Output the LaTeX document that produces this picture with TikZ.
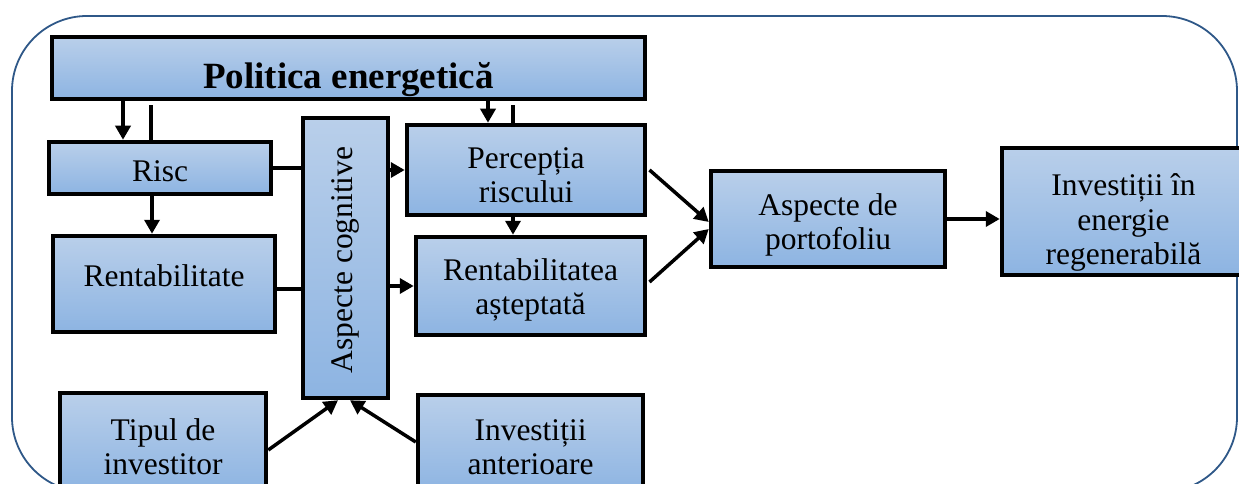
\documentclass[tikz,border=0pt]{standalone}
\usepackage{fontspec}
\setmainfont{Liberation Serif}
\usetikzlibrary{arrows.meta}
\definecolor{boxtop}{RGB}{185,207,234}
\definecolor{boxbot}{RGB}{141,180,226}
\definecolor{frameblue}{RGB}{47,88,136}
\tikzset{
    box/.style={draw=black, line width=4.5pt, top color=boxtop, bottom color=boxbot, inner sep=0pt},
    lbl/.style={align=center, font=\fontsize{31.5}{34.5}\selectfont},
    link/.style={line width=3.5pt},
    arr/.style={line width=3.5pt, -{Triangle[length=14pt, width=15pt]}}
}

\begin{document}
\begin{tikzpicture}[x=1pt, y=-1pt]
    \clip (0,0) rectangle (1239,484);
    \fill [white] (0,0) rectangle (1239,484);
    \draw [frameblue, line width=1.8pt, rounded corners=75pt] (12,16) rectangle (1237,492);
    \node [box, minimum width=593pt, minimum height=62pt, label={[lbl, font=\bfseries\fontsize{37}{40}\selectfont, yshift=-12pt]center:Politica energetică}] (title) at (348.5,68) {};
    \node [box, minimum width=222pt, minimum height=52pt, label={[lbl, yshift=-3pt]center:Risc}] (risc) at (160,168) {};
    \node [box, minimum width=222pt, minimum height=96pt, label={[lbl, yshift=8pt]center:Rentabilitate}] (rent) at (164,284) {};
    \node [box, minimum width=85pt, minimum height=280pt, label={[lbl, rotate=90, xshift=-2pt]center:Aspecte cognitive}] (cogn) at (345.5,258) {};
    \node [box, minimum width=238pt, minimum height=90pt, label={[lbl, yshift=-5pt]center:Percepția\\riscului}] (perc) at (526,170) {};
    \node [box, minimum width=229pt, minimum height=98pt, label={[lbl, yshift=-4pt]center:Rentabilitatea\\așteptată}] (rasv) at (530.5,286) {};
    \node [box, minimum width=206pt, minimum height=99pt, label={[lbl, yshift=-4pt]center:Tipul de\\investitor}] (tip) at (163,442.5) {};
    \node [box, minimum width=225pt, minimum height=98pt, label={[lbl, yshift=-3pt]center:Investiții\\anterioare}] (ant) at (530.5,444) {};
    \node [box, minimum width=234pt, minimum height=96pt, label={[lbl, yshift=-6pt]center:Aspecte de\\portofoliu}] (port) at (828,219) {};
    \node [box, minimum width=243pt, minimum height=127pt, label={[lbl, yshift=-11pt]center:Investiții în\\energie\\regenerabilă}] (inv) at (1123.5,211.5) {};
    \draw [arr] ([xshift=-37pt]risc.north |- title.south) -- ([xshift=-37pt]risc.north);
    \draw [link, shorten >=4pt] ([xshift=-9pt]risc.north) -- ([xshift=-9pt]risc.north |- title.south);
    \draw [arr] ([xshift=-38pt]perc.north |- title.south) -- ([xshift=-38pt]perc.north);
    \draw [link, shorten >=4pt] ([xshift=-13pt]perc.north) -- ([xshift=-13pt]perc.north |- title.south);
    \draw [arr] ([xshift=-8pt]risc.south) -- ([xshift=-8pt]risc.south |- rent.north);
    \draw [link] (risc.east) -- (risc.east -| cogn.west);
    \draw [link] ([yshift=-5pt]rent.east) -- ([yshift=-5pt]rent.east -| cogn.west);
    \draw [arr] (cogn.east |- perc.west) -- (perc.west);
    \draw [arr] (cogn.east |- rasv.west) -- (rasv.west);
    \draw [arr] ([xshift=-13pt]perc.south) -- ([xshift=-13pt]perc.south |- rasv.north);
    \draw [arr, shorten <=3pt] ([yshift=2pt]perc.east) -- ([yshift=-3pt]port.west);
    \draw [arr, shorten <=3pt] ([yshift=2pt]rasv.east) -- ([yshift=-10pt]port.west);
    \draw [arr] (port.east) -- (port.east -| inv.west);
    \draw [arr] ([yshift=-7.5pt]tip.east) -- ([xshift=-7.5pt]cogn.south);
    \draw [arr] ([yshift=2pt]ant.west) -- ([xshift=4.5pt]cogn.south);
\end{tikzpicture}
\end{document}
